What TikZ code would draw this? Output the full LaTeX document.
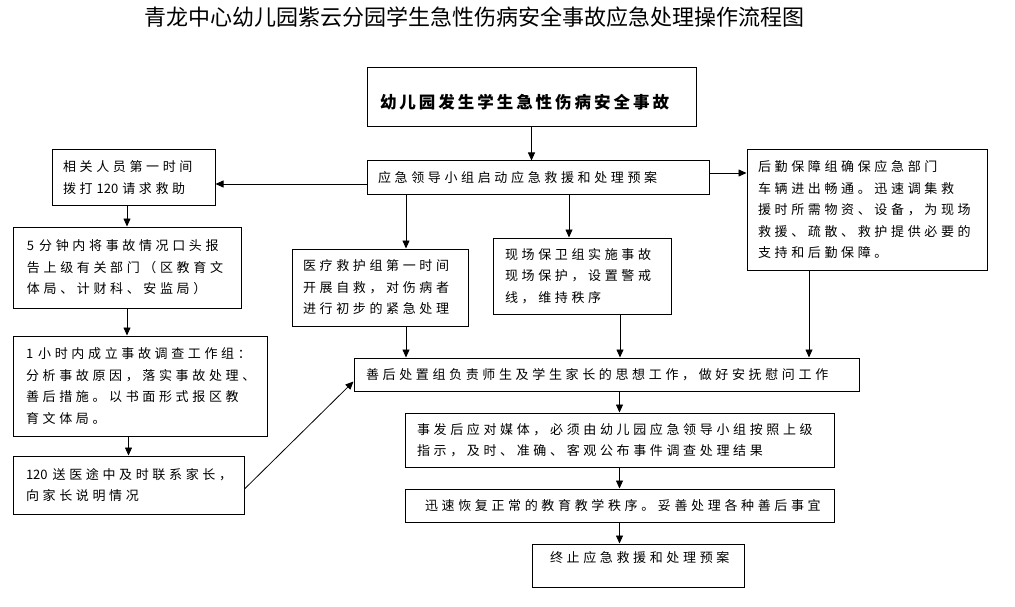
\documentclass[tikz,border=0pt]{standalone}
\usepackage{fontspec}
\usetikzlibrary{arrows.meta}
\newfontfamily\cjk[LetterSpace=28]{Noto Sans CJK SC}
\newfontfamily\cjkhead[LetterSpace=18]{Noto Sans CJK SC}
\newfontfamily\cjktitle{Noto Sans CJK SC}
\newcommand\nolsp[1]{{\cjktitle #1}}
\tikzset{
  box/.style={draw, line width=1pt, inner ysep=0pt, align=left,
    font=\cjk\fontsize{13}{21.5}\selectfont},
  arr/.style={line width=0.8pt, -{Triangle[length=8pt,width=7pt]}},
}
\begin{document}
\begin{tikzpicture}[x=1pt,y=-1pt]
\useasboundingbox (0,0) rectangle (1015,607);
\fill[white] (0,0) rectangle (1015,607);

\node[font=\cjktitle\fontsize{22}{26}\selectfont] (title) at (474,17) {青龙中心幼儿园紫云分园学生急性伤病安全事故应急处理操作流程图};

\node[box, inner xsep=13pt, text width=303pt, minimum height=59pt,
  font=\cjkhead\bfseries\fontsize{16.5}{20}\selectfont] (top) at (531.5,97.5)
  {\raisebox{-11pt}[0pt][0pt]{幼儿园发生学生急性伤病安全事故}};
\node[box, inner xsep=11pt, text width=320pt, minimum height=33pt] (lead) at (538,177.5)
  {应急领导小组启动应急救援和处理预案};
\node[box, inner xsep=11pt, text width=141pt, minimum height=55pt] (call) at (133.5,177.5)
  {相关人员第一时间\\拨打\hspace{4pt}\nolsp{120}\hspace{4pt}请求救助};
\node[box, inner xsep=14pt, text width=200pt, minimum height=81pt] (report) at (127,267.5)
  {\nolsp{5}\hspace{5pt}分钟内将事故情况口头报\\告上级有关部门（区教育文\\体局、计财科、安监局）};
\node[box, inner xsep=11pt, text width=154pt, minimum height=77pt] (med) at (380,287.5)
  {医疗救护组第一时间\\开展自救，对伤病者\\进行初步的紧急处理};
\node[box, inner xsep=12pt, text width=154pt, minimum height=76pt] (sec) at (582,276)
  {现场保卫组实施事故\\现场保护，设置警戒\\线，维持秩序};
\node[box, inner xsep=11pt, text width=218pt, minimum height=120pt] (logi) at (867,210)
  {后勤保障组确保应急部门\\车辆进出畅通。迅速调集救\\援时所需物资、设备，为现场\\救援、疏散、救护提供必要的\\支持和后勤保障。};
\node[box, inner xsep=13pt, text width=228pt, minimum height=100pt] (invest) at (140,386)
  {\nolsp{1}\hspace{5pt}小时内成立事故调查工作组：\\分析事故原因，落实事故处理、\\善后措施。以书面形式报区教\\育文体局。};
\node[box, inner xsep=13pt, text width=205pt, minimum height=58pt] (parent) at (128.5,485)
  {\nolsp{120}\hspace{5pt}送医途中及时联系家长，\\向家长说明情况};
\node[box, inner xsep=12pt, text width=481pt, minimum height=33pt] (after) at (606.5,374.5)
  {善后处置组负责师生及学生家长的思想工作，做好安抚慰问工作};
\node[box, inner xsep=12pt, text width=405pt, minimum height=54pt] (media) at (619.5,440)
  {事发后应对媒体，必须由幼儿园应急领导小组按照上级\\指示，及时、准确、客观公布事件调查处理结果};
\node[box, inner xsep=20pt, text width=389pt, minimum height=33pt] (restore) at (619.5,505.5)
  {迅速恢复正常的教育教学秩序。妥善处理各种善后事宜};
\node[box, inner xsep=18pt, text width=176pt, minimum height=43pt] (finish) at (638,565.5)
  {\raisebox{3pt}[0pt][0pt]{终止应急救援和处理预案}};

% helper coordinates
\coordinate (cL) at ([yshift=-6.5pt]lead.west);
\coordinate (cR) at ([yshift=4.5pt]lead.east);
\coordinate (m1) at ([xshift=26pt]med.north);
\coordinate (s1) at ([xshift=-13pt]sec.north);
\coordinate (s2) at ([xshift=38pt]sec.south);
\coordinate (g1) at ([xshift=-58pt]logi.south);
\coordinate (p1) at ([yshift=-4pt]parent.east);
\coordinate (a1) at ([yshift=10pt]after.south west);

\draw[arr] (top.south) -- (top.south |- lead.north);
\draw[arr] (cL) -- (cL -| call.east);
\draw[arr] (cR) -- (cR -| logi.west);
\draw[arr] (call.south -| report.north) -- (report.north);
\draw[arr] (report.south) -- (report.south |- invest.north);
\draw[arr] (parent.north |- invest.south) -- (parent.north);
\draw[arr] (m1 |- lead.south) -- (m1);
\draw[arr] (s1 |- lead.south) -- (s1);
\draw[arr] (m1 |- med.south) -- (m1 |- after.north);
\draw[arr] (s2) -- (s2 |- after.north);
\draw[arr] (g1) -- (g1 |- after.north);
\draw[arr] (p1) -- (a1);
\draw[arr] (media.north |- after.south) -- (media.north);
\draw[arr] (media.south) -- (restore.north);
\draw[arr] (restore.south) -- (restore.south |- finish.north);
\end{tikzpicture}
\end{document}
